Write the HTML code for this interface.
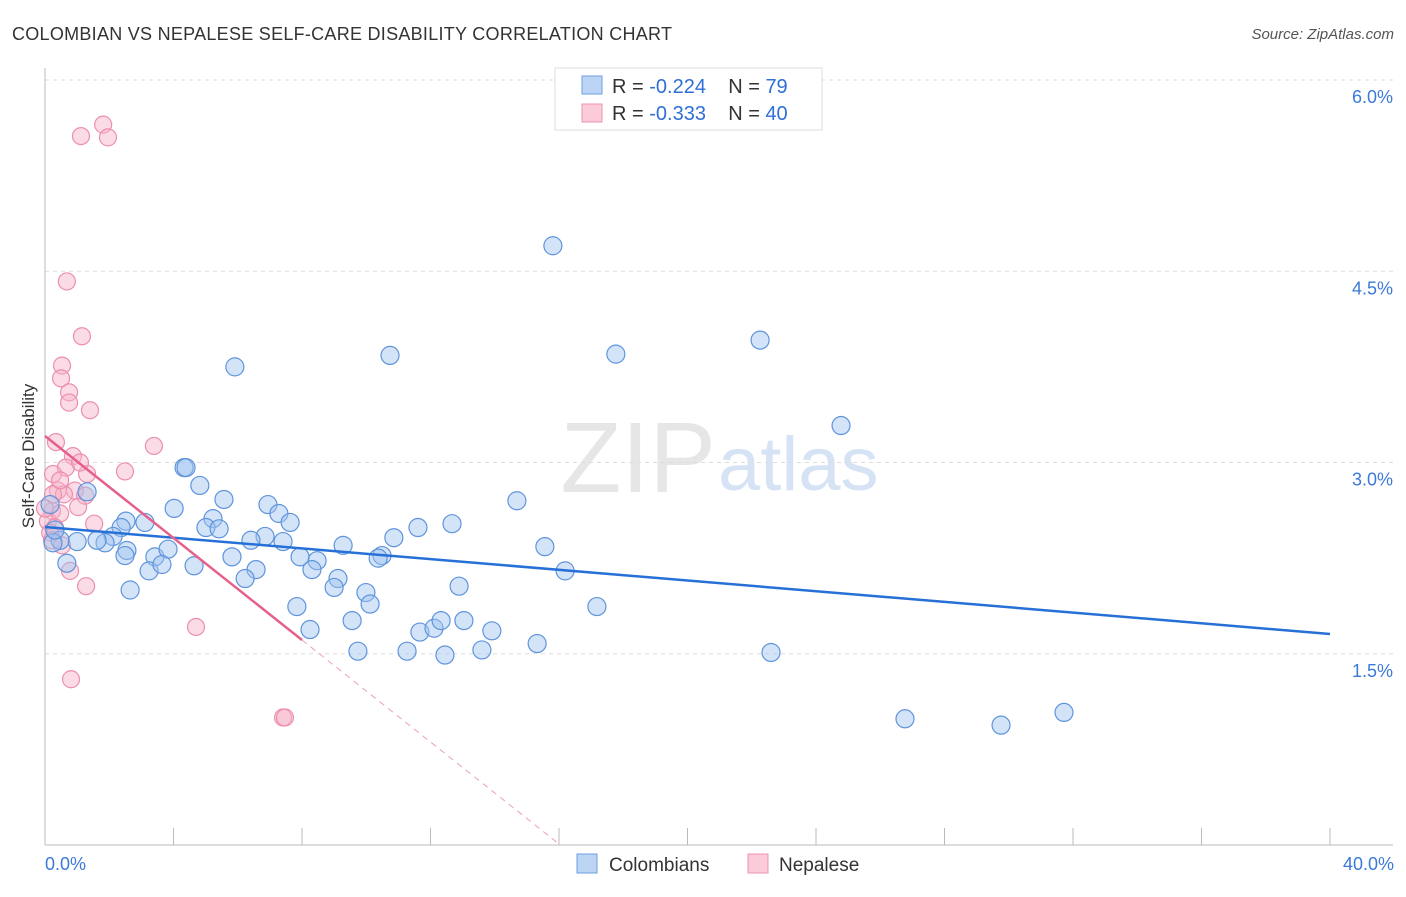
<!DOCTYPE html>
<html><head><meta charset="utf-8"><style>
body{margin:0;background:#fff;font-family:"Liberation Sans",sans-serif;}
svg text{font-family:"Liberation Sans",sans-serif;}
</style></head><body>
<svg id="chart" width="1406" height="892">
<text x="12" y="40" font-size="18" fill="#333" textLength="660">COLOMBIAN VS NEPALESE SELF-CARE DISABILITY CORRELATION CHART</text>
<text x="1394" y="39" font-size="15" fill="#555" font-style="italic" text-anchor="end">Source: ZipAtlas.com</text>
<text x="716" y="492" font-size="100" fill="#e6e6e6" text-anchor="end" font-family="Liberation Serif">ZIP</text>
<text x="718" y="490" font-size="76" fill="#d5e3f5">atlas</text>
<g id="grid"></g><g id="axes"></g>
<text transform="translate(34,456) rotate(-90)" font-size="17" fill="#333" text-anchor="middle">Self-Care Disability</text>
<g id="marks"></g>
<g>
<rect x="555" y="68" width="267" height="62" fill="#fff" stroke="#ddd"/>
<rect x="582" y="76" width="20" height="18" fill="#bcd5f5" stroke="#6d9ee0"/>
<rect x="582" y="104" width="20" height="18" fill="#fbcbd9" stroke="#ec93b0"/>
<text x="612" y="93" font-size="20" fill="#333">R = <tspan fill="#2f6fd6">-0.224</tspan>&#160;&#160;&#160;&#160;N = <tspan fill="#2f6fd6">79</tspan></text>
<text x="612" y="120" font-size="20" fill="#333">R = <tspan fill="#2f6fd6">-0.333</tspan>&#160;&#160;&#160;&#160;N = <tspan fill="#2f6fd6">40</tspan></text>
</g>
<g>
<rect x="577" y="854" width="20" height="19" fill="#bcd5f5" stroke="#6d9ee0"/>
<text x="609" y="871" font-size="19" fill="#333">Colombians</text>
<rect x="748" y="854" width="20" height="19" fill="#fbcbd9" stroke="#ec93b0"/>
<text x="779" y="871" font-size="19" fill="#333">Nepalese</text>
</g>
</svg>
<script>
const xTicks=[0,4,8,12,16,20,24,28,32,36,40];
const yTicks=[1.5,3.0,4.5,6.0];
const blueX=[15.81,5.91,10.74,17.77,22.26,24.78,4.33,4.39,4.82,5.57,14.69,1.31,3.11,4.02,5.23,5.01,5.42,6.94,7.28,7.63,6.85,6.41,7.41,2.52,2.37,2.12,1.87,1.00,0.47,0.25,0.31,0.16,2.55,2.49,3.42,3.83,3.24,3.64,4.64,5.82,6.57,6.23,2.65,7.94,8.47,8.31,9.28,9.12,9.00,10.49,10.37,10.86,11.61,12.67,15.56,16.19,12.89,7.84,8.25,9.56,9.99,10.12,9.74,11.67,12.11,12.33,13.04,13.91,11.27,12.45,13.60,15.32,17.18,22.60,26.77,29.76,31.72,0.68,1.62];
const blueY=[4.70,3.75,3.84,3.85,3.96,3.29,2.96,2.96,2.82,2.71,2.70,2.77,2.53,2.64,2.56,2.49,2.48,2.67,2.60,2.53,2.42,2.39,2.38,2.54,2.49,2.42,2.37,2.38,2.39,2.37,2.47,2.67,2.31,2.27,2.26,2.32,2.15,2.20,2.19,2.26,2.16,2.09,2.00,2.26,2.23,2.16,2.35,2.09,2.02,2.27,2.25,2.41,2.49,2.52,2.34,2.15,2.03,1.87,1.69,1.76,1.98,1.89,1.52,1.67,1.70,1.76,1.76,1.68,1.52,1.49,1.53,1.58,1.87,1.51,0.99,0.94,1.04,2.21,2.39];
const pinkX=[1.12,1.81,1.96,0.68,1.15,0.53,0.50,0.75,0.75,1.40,0.34,3.39,0.87,0.65,0.25,1.31,2.49,0.40,0.93,0.59,1.25,1.03,0.22,0.09,0.47,0.31,0.16,1.53,1.28,0.78,4.70,0.81,7.41,7.47,0.25,1.09,0.47,0.00,0.22,0.53];
const pinkY=[5.56,5.65,5.55,4.42,3.99,3.76,3.66,3.55,3.47,3.41,3.16,3.13,3.05,2.96,2.91,2.91,2.93,2.78,2.78,2.75,2.74,2.65,2.62,2.54,2.60,2.49,2.45,2.52,2.03,2.15,1.71,1.30,1.00,1.00,2.75,3.00,2.86,2.64,2.39,2.35];
const blueTrend=[2.494,1.655];
const pinkTrend=[3.208,-0.2];
const NS="http://www.w3.org/2000/svg";
const X=v=>45+v*32.125, Y=v=>845-v*127.5;
function mk(t,a,p){const e=document.createElementNS(NS,t);for(const k in a)e.setAttribute(k,a[k]);document.getElementById(p).appendChild(e);return e;}
yTicks.forEach(t=>{
 const g=mk('line',{x1:45,x2:1393,y1:Y(t),y2:Y(t),stroke:'#ddd','stroke-dasharray':'4,4'},'grid');
 
 
 const l=mk('text',{x:1393,y:Y(t)+23,'font-size':18,fill:'#3b7ad8','text-anchor':'end'},'grid');
 l.textContent=t.toFixed(1)+'%';
 
 
});
mk('line',{x1:45,x2:45,y1:68,y2:845,stroke:'#bbb'},'axes');
mk('line',{x1:45,x2:1393,y1:845,y2:845,stroke:'#bbb'},'axes');
xTicks.forEach(t=>{
 const k=mk('line',{x1:X(t),x2:X(t),y1:828,y2:845,stroke:'#bbb'},'axes');
 
 
});
[[0,'start'],[40,'end']].forEach(([t,a])=>{
 const l=mk('text',{x:t==0?X(t):1394,y:870,'font-size':18,fill:'#3b7ad8','text-anchor':a},'axes');
 l.textContent=t.toFixed(1)+'%';
 
 
});
pinkX.forEach((x,i)=>{
 const c=mk('circle',{cx:X(x),cy:Y(pinkY[i]),r:8.5,fill:'rgba(246,178,200,0.45)',stroke:'#ec8fae','stroke-width':1.2},'marks');
 
 
});
blueX.forEach((x,i)=>{
 const c=mk('circle',{cx:X(x),cy:Y(blueY[i]),r:9,fill:'rgba(160,196,240,0.45)',stroke:'#5f94dc','stroke-width':1.2},'marks');
 
 
});
const bl=mk('line',{x1:X(0),y1:Y(blueTrend[0]),x2:X(40),y2:Y(blueTrend[1]),stroke:'#2670d8','stroke-width':2.5},'marks');


const pe=8, pz=-pinkTrend[0]/pinkTrend[1];
const pl=mk('line',{x1:X(0),y1:Y(pinkTrend[0]),x2:X(pe),y2:Y(pinkTrend[0]+pinkTrend[1]*pe),stroke:'#e5608a','stroke-width':2.5},'marks');


const pd=mk('line',{x1:X(pe),y1:Y(pinkTrend[0]+pinkTrend[1]*pe),x2:X(pz),y2:Y(0),stroke:'#eaa0b8','stroke-width':1,'stroke-dasharray':'6,5'},'marks');


</script>
</body></html>
